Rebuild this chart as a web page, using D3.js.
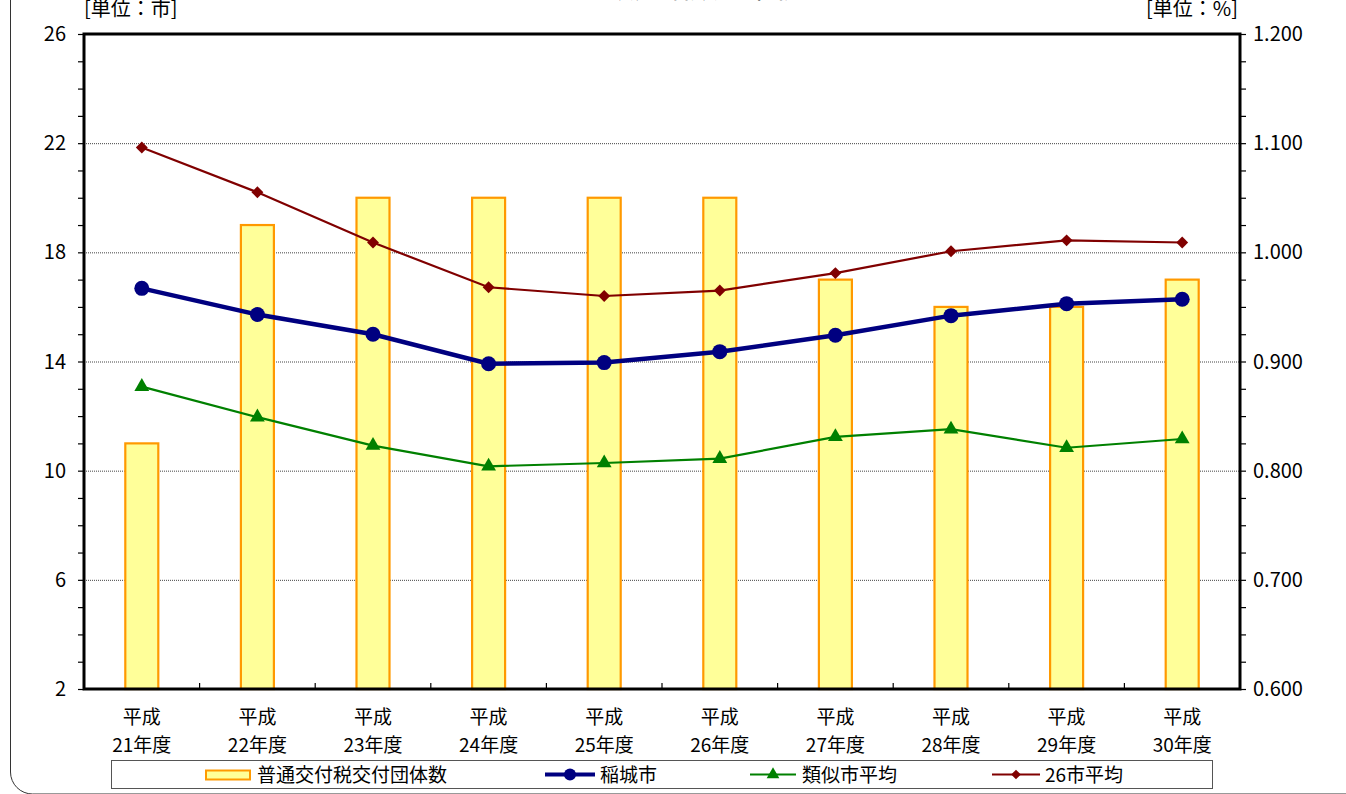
<!DOCTYPE html>
<html lang="ja">
<head>
<meta charset="utf-8">
<script src="https://cdn.jsdelivr.net/npm/d3@7"></script>
<style>
  html, body { margin: 0; padding: 0; background: #fff; }
  svg { display: block; }
  text { font-family: "Noto Sans CJK JP", "Noto Sans", sans-serif; fill: #000; }
</style>
</head>
<body>
<svg id="chart" width="1346" height="794"></svg>
<script>
// 年度区分
const categories = ["平成21年度", "平成22年度", "平成23年度", "平成24年度", "平成25年度",
                    "平成26年度", "平成27年度", "平成28年度", "平成29年度", "平成30年度"];
// 普通交付税交付団体数（左軸・市）
const kofuCount = [11, 19, 20, 20, 20, 20, 17, 16, 16, 17];
// 稲城市（右軸）
const inagi = [0.967, 0.943, 0.925, 0.898, 0.899, 0.909, 0.924, 0.942, 0.953, 0.957];
// 類似市平均（右軸）
const ruijiAvg = [0.877, 0.849, 0.823, 0.804, 0.807, 0.811, 0.831, 0.838, 0.821, 0.829];
// 26市平均（右軸）
const avg26 = [1.096, 1.055, 1.009, 0.968, 0.960, 0.965, 0.981, 1.001, 1.011, 1.009];
// 軸目盛
const leftTicks = [2, 6, 10, 14, 18, 22, 26];
const rightTicks = [0.6, 0.7, 0.8, 0.9, 1.0, 1.1, 1.2];
const legendLabels = ["普通交付税交付団体数", "稲城市", "類似市平均", "26市平均"];

const svg = d3.select("#chart");
const L = 84, R = 1240, T = 34, B = 689;

const x = d3.scaleBand().domain(categories).range([L, R]);
const yL = d3.scaleLinear().domain([2, 26]).range([B, T]);
const yR = d3.scaleLinear().domain([0.6, 1.2]).range([B, T]);

// 外枠（角丸）
svg.append("rect")
  .attr("x", 10.5).attr("y", -30).attr("width", 1360).attr("height", 824)
  .attr("rx", 22).attr("fill", "none").attr("stroke", "#333").attr("stroke-width", 1);

// タイトル（上端）
svg.append("text")
  .attr("x", 690).attr("y", -2).attr("text-anchor", "middle")
  .style("font-size", "28px").text("財政力指数の推移");

// 単位
svg.append("text").attr("x", 84).attr("y", 16)
  .style("font-size", "20px").text("[単位：市]");
svg.append("text").attr("x", 1238).attr("y", 16).attr("text-anchor", "end")
  .style("font-size", "20px").text("[単位：%]");

// 目盛線（点線）
svg.append("g").selectAll("line")
  .data(leftTicks.filter(d => d > 2 && d < 26))
  .join("line")
  .attr("x1", L).attr("x2", R)
  .attr("y1", d => yL(d) + 0.5).attr("y2", d => yL(d) + 0.5)
  .attr("stroke", "#444").attr("stroke-width", 1).attr("stroke-dasharray", "1,1");

// 棒グラフ
const bw = 33;
svg.append("g").selectAll("rect")
  .data(kofuCount)
  .join("rect")
  .attr("x", (d, i) => x(categories[i]) + x.bandwidth() / 2 - bw / 2)
  .attr("y", d => yL(d))
  .attr("width", bw)
  .attr("height", d => yL(2) - yL(d))
  .attr("fill", "#FFFF99").attr("stroke", "#FF9900").attr("stroke-width", 2.2);

// 左軸
const axisL = d3.axisLeft(yL).tickValues(d3.range(2, 27, 1)).tickSize(6).tickFormat("");
const gL = svg.append("g").attr("transform", `translate(${L},0)`).call(axisL);
gL.select(".domain").remove();
gL.selectAll("line").attr("stroke", "#000").attr("stroke-width", 1.2);
svg.append("g").selectAll("text")
  .data(leftTicks).join("text")
  .attr("x", 66).attr("y", d => yL(d) + 7).attr("text-anchor", "end")
  .style("font-size", "20px").text(d => d);

// 右軸
const axisR = d3.axisRight(yR).tickValues(d3.range(0, 25).map(i => 0.6 + i * 0.025)).tickSize(6).tickFormat("");
const gR = svg.append("g").attr("transform", `translate(${R},0)`).call(axisR);
gR.select(".domain").remove();
gR.selectAll("line").attr("stroke", "#000").attr("stroke-width", 1.2);
svg.append("g").selectAll("text")
  .data(rightTicks).join("text")
  .attr("x", 1253).attr("y", d => yR(d) + 7)
  .style("font-size", "20px").text(d => d3.format(".3f")(d));

// 横軸の区切り目盛（内向き）
svg.append("g").selectAll("line")
  .data(categories.slice(1))
  .join("line")
  .attr("x1", d => x(d)).attr("x2", d => x(d))
  .attr("y1", B).attr("y2", B - 6)
  .attr("stroke", "#000").attr("stroke-width", 1.2);

// 横軸ラベル（2段）
const xl = svg.append("g").selectAll("text")
  .data(categories).join("text")
  .attr("text-anchor", "middle")
  .style("font-size", "19px");
xl.append("tspan").attr("x", d => x(d) + x.bandwidth() / 2).attr("y", 724).text(d => d.slice(0, 2));
xl.append("tspan").attr("x", d => x(d) + x.bandwidth() / 2).attr("y", 752).text(d => d.slice(2));

// プロット領域の枠
svg.append("rect")
  .attr("x", L).attr("y", T).attr("width", R - L).attr("height", B - T)
  .attr("fill", "none").attr("stroke", "#000").attr("stroke-width", 3);

// 折れ線
const cx = (i) => x(categories[i]) + x.bandwidth() / 2;
const line = d3.line().x((d, i) => cx(i)).y(d => yR(d));

// 類似市平均
svg.append("path").datum(ruijiAvg).attr("d", line)
  .attr("fill", "none").attr("stroke", "#008000").attr("stroke-width", 2.2);
const tri = d3.symbol().type(d3.symbolTriangle).size(95);
svg.append("g").selectAll("path").data(ruijiAvg).join("path")
  .attr("d", tri).attr("transform", (d, i) => `translate(${cx(i)},${yR(d)})`)
  .attr("fill", "#008000");

// 26市平均
svg.append("path").datum(avg26).attr("d", line)
  .attr("fill", "none").attr("stroke", "#800000").attr("stroke-width", 2.2);
const dia = d3.symbol().type(d3.symbolDiamond2).size(90);
svg.append("g").selectAll("path").data(avg26).join("path")
  .attr("d", dia).attr("transform", (d, i) => `translate(${cx(i)},${yR(d)})`)
  .attr("fill", "#800000");

// 稲城市
svg.append("path").datum(inagi).attr("d", line)
  .attr("fill", "none").attr("stroke", "#000080").attr("stroke-width", 4.5);
svg.append("g").selectAll("circle").data(inagi).join("circle")
  .attr("cx", (d, i) => cx(i)).attr("cy", d => yR(d)).attr("r", 7.5)
  .attr("fill", "#000080");

// 凡例
const lg = svg.append("g");
lg.append("rect").attr("x", 111.5).attr("y", 760.5).attr("width", 1101).attr("height", 28)
  .attr("fill", "#fff").attr("stroke", "#555").attr("stroke-width", 1);
const ly = 774.5;
// 棒
lg.append("rect").attr("x", 206).attr("y", ly - 4).attr("width", 44).attr("height", 9)
  .attr("fill", "#FFFF99").attr("stroke", "#FF9900").attr("stroke-width", 2);
lg.append("text").attr("x", 257).attr("y", ly + 7).style("font-size", "19px").text(legendLabels[0]);
// 稲城市
lg.append("line").attr("x1", 545).attr("x2", 595).attr("y1", ly).attr("y2", ly)
  .attr("stroke", "#000080").attr("stroke-width", 4);
lg.append("circle").attr("cx", 570).attr("cy", ly).attr("r", 6).attr("fill", "#000080");
lg.append("text").attr("x", 600).attr("y", ly + 7).style("font-size", "19px").text(legendLabels[1]);
// 類似市平均
lg.append("line").attr("x1", 750).attr("x2", 796).attr("y1", ly).attr("y2", ly)
  .attr("stroke", "#008000").attr("stroke-width", 2);
lg.append("path").attr("d", d3.symbol().type(d3.symbolTriangle).size(70))
  .attr("transform", `translate(773,${ly})`).attr("fill", "#008000");
lg.append("text").attr("x", 802).attr("y", ly + 7).style("font-size", "19px").text(legendLabels[2]);
// 26市平均
lg.append("line").attr("x1", 992).attr("x2", 1040).attr("y1", ly).attr("y2", ly)
  .attr("stroke", "#800000").attr("stroke-width", 2);
lg.append("path").attr("d", d3.symbol().type(d3.symbolDiamond2).size(60))
  .attr("transform", `translate(1016,${ly})`).attr("fill", "#800000");
lg.append("text").attr("x", 1045).attr("y", ly + 7).style("font-size", "19px").text(legendLabels[3]);
</script>
</body>
</html>
